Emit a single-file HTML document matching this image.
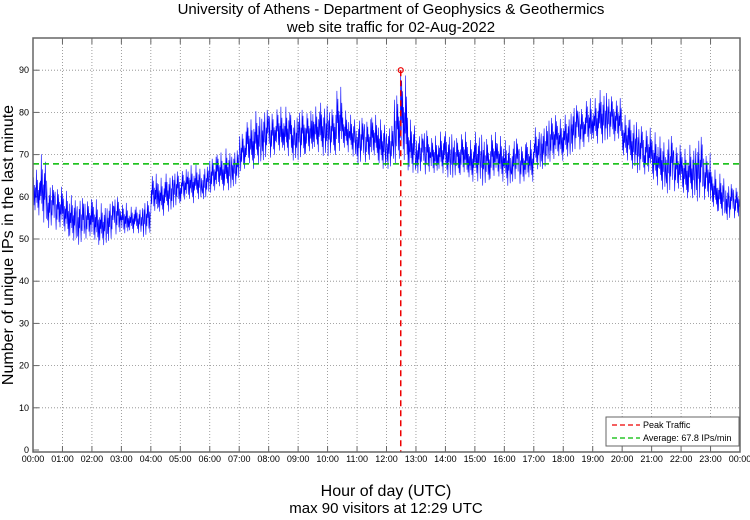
<!DOCTYPE html>
<html><head><meta charset="utf-8"><style>
body{margin:0;background:#fff;}
svg text{font-family:"Liberation Sans",sans-serif;fill:#000;}
</style></head><body>
<svg id="chart" width="750" height="515">
<text x="391" y="14" font-size="15" text-anchor="middle">University of Athens - Department of Geophysics &amp; Geothermics</text>
<text x="391" y="32" font-size="15" text-anchor="middle">web site traffic for 02-Aug-2022</text>
<text transform="translate(13,245) rotate(-90)" font-size="16" text-anchor="middle">Number of unique IPs in the last minute</text>
<text x="386" y="496" font-size="16" text-anchor="middle">Hour of day (UTC)</text>
<text x="386" y="513" font-size="15" text-anchor="middle">max 90 visitors at 12:29 UTC</text>
<g id="grid"></g><g id="series"></g><g id="overlay"></g>
<rect x="33" y="38" width="707" height="414" fill="none" stroke="#666" stroke-width="1.5"/>
<g>
<rect x="606" y="417" width="133" height="29" fill="#fff" stroke="#666"/>
<line x1="612" y1="425" x2="640" y2="425" stroke="#e00" stroke-dasharray="5,3" stroke-width="1.3"/>
<text x="643" y="428" font-size="9">Peak Traffic</text>
<line x1="612" y1="438" x2="640" y2="438" stroke="#0b0" stroke-dasharray="5,3" stroke-width="1.3"/>
<text x="643" y="441" font-size="9">Average: 67.8 IPs/min</text>
</g>
</svg>
<script>
const hourLabels=["00:00","01:00","02:00","03:00","04:00","05:00","06:00","07:00","08:00","09:00","10:00","11:00","12:00","13:00","14:00","15:00","16:00","17:00","18:00","19:00","20:00","21:00","22:00","23:00","00:00"];
const yTicks=[0,10,20,30,40,50,60,70,80,90];
// 15-minute bins (4 per hour): low and high of per-minute values
const binLow=[
55,53,52,51, 50,49,48,49, 48,48,49,50, 50,51,51,50,
55,55,56,57, 58,58,59,59, 60,61,61,62, 65,66,67,68,
68,69,69,68, 68,69,70,69, 69,68,70,69, 67,67,68,66,
66,66,65,65, 65,64,64,65, 64,64,64,63, 63,62,63,63,
62,63,62,63, 66,66,67,68, 69,70,70,71, 72,72,73,72,
68,66,65,64, 62,61,60,60, 59,59,58,58, 56,55,54,54];
const binHigh=[
67,71,64,63, 62,61,61,60, 60,59,60,61, 59,58,58,60,
66,65,66,67, 67,68,68,68, 70,71,72,72, 76,79,81,82,
81,82,82,80, 82,81,82,83, 82,87,81,80, 80,79,80,79,
78,86,90,79, 76,77,75,76, 76,75,76,74, 76,75,76,75,
74,75,73,74, 77,78,80,79, 80,83,82,84, 84,86,85,84,
80,79,78,77, 76,75,76,73, 72,73,76,71, 67,66,64,63];
const peakValue=90, peakMinute=12*60+29, avgValue=67.8;

const NS="http://www.w3.org/2000/svg";
const X0=33,X1=740,Y0=450,PER=4.22;
const xs=m=>X0+(X1-X0)*m/1440;
const ys=v=>Y0-v*PER;
function mk(tag,attrs,parent){const e=document.createElementNS(NS,tag);for(const k in attrs)e.setAttribute(k,attrs[k]);parent.appendChild(e);return e;}
const grid=document.getElementById('grid');
hourLabels.forEach((l,i)=>{
  const x=xs(i*60);
  if(i>0&&i<24){const g=mk('line',{x1:x,x2:x,y1:38,y2:452,stroke:'#888','stroke-dasharray':'1,2','stroke-width':0.8},grid);
  
  }
  mk('line',{x1:x,x2:x,y1:446,y2:452,stroke:'#666'},grid);
  mk('line',{x1:x,x2:x,y1:38,y2:44,stroke:'#666'},grid);
  const t=mk('text',{x:x,y:462,'font-size':9,'text-anchor':'middle'},grid);t.textContent=l;
  
  
});
yTicks.forEach(v=>{
  const y=ys(v);
  if(v>0){const g=mk('line',{x1:33,x2:740,y1:y,y2:y,stroke:'#888','stroke-dasharray':'1,2','stroke-width':0.8},grid);
  
  }
  mk('line',{x1:33,x2:39,y1:y,y2:y,stroke:'#666'},grid);
  const t=mk('text',{x:29,y:y+3,'font-size':9,'text-anchor':'end'},grid);t.textContent=v;
  
  
});
const pat=[0.5,0.8,0.25,0.65,0.15,0.6,0.4,0.95,0.3,0.75,0.2,0.55,0.05,0.7,0.35,0.85,0.45,0.1,0.6,0.3,0.9];
let pts=[];
binLow.forEach((lo,b)=>{
  const hi=binHigh[b];
  for(let k=0;k<15;k++){
    const m=b*15+k;
    let v=lo+(hi-lo)*pat[(k+b*5)%21];
    if(m===peakMinute)v=peakValue;
    pts.push(xs(m).toFixed(1)+','+ys(v).toFixed(1));
  }
});
const line=mk('polyline',{points:pts.join(' '),fill:'none',stroke:'#00f','stroke-width':0.6},document.getElementById('series'));


const ov=document.getElementById('overlay');
const av=mk('line',{x1:33,x2:740,y1:ys(avgValue),y2:ys(avgValue),stroke:'#0b0','stroke-dasharray':'6,4','stroke-width':1.5},ov);


const pk=mk('line',{x1:xs(peakMinute),x2:xs(peakMinute),y1:ys(peakValue),y2:452,stroke:'#e00','stroke-dasharray':'6,4','stroke-width':1.5},ov);


const pc=mk('circle',{cx:xs(peakMinute),cy:ys(peakValue),r:2.5,fill:'none',stroke:'#e00','stroke-width':1.2},ov);


</script>
</body></html>
